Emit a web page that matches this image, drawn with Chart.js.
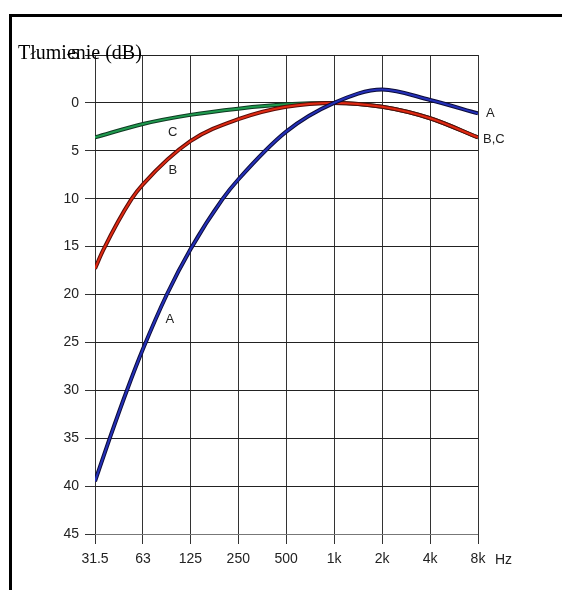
<!DOCTYPE html>
<html>
<head>
<meta charset="utf-8">
<script src="https://cdn.jsdelivr.net/npm/chart.js@4"></script>
<style>
  html, body { margin: 0; padding: 0; background: #fff; overflow: hidden; }
  #wrap { position: relative; width: 562px; height: 590px; }
  #frame { position: absolute; left: 9px; top: 14px; width: 700px; height: 700px; border: 3px solid #000; }
  #chart { position: absolute; left: 0; top: 0; }
</style>
</head>
<body>
<div id="wrap">
  <div id="frame"></div>
  <canvas id="chart" width="562" height="590"></canvas>
</div>
<script>
// Krzywe korekcyjne A, B, C - tłumienie w dB w funkcji częstotliwości

const freqTicks = [31.5, 63, 125, 250, 500, 1000, 2000, 4000, 8000];
const freqLabels = ['31.5', '63', '125', '250', '500', '1k', '2k', '4k', '8k'];
const yTicks = [-5, 0, 5, 10, 15, 20, 25, 30, 35, 40, 45];

// odczyty z wykresu (Hz, dB)
const aFreq = [31.5, 39, 50, 63, 89, 125, 200, 250, 500, 1000, 2000, 4000, 8000];
const aVal  = [39.5, 35, 30, 25.7, 20, 15.3, 10, 8.0, 3.0, 0.0, -1.4, -0.3, 1.1];

const bFreq = [31.5, 35.4, 53.6, 63, 125, 250, 500, 1000, 2000, 4000, 8000];
const bVal  = [17.3, 15.4, 10, 8.5, 4.0, 1.7, 0.4, 0.0, 0.4, 1.6, 3.6];

const cFreq = [31.5, 63, 125, 250, 500, 1000, 2000, 4000, 8000];
const cVal  = [3.6, 2.2, 1.25, 0.6, 0.15, 0.0, 0.4, 1.6, 3.6];

const FONT = '"Liberation Sans", Arial, sans-serif';

function pts(fs, vs) {
    return fs.map((f, i) => ({ x: f, y: vs[i] }));
}

// dark outline under a thinner coloured line
function line(data, color, width, order) {
    return {
        data: data,
        borderColor: color,
        borderWidth: width,
        pointRadius: 0,
        fill: false,
        cubicInterpolationMode: 'monotone',
        order: order
    };
}

// title + curve letters + "Hz"
const textPlugin = {
    id: 'texts',
    afterDraw(chart) {
        const c = chart.ctx;
        const x = chart.scales.x;
        const y = chart.scales.y;
        c.save();

        c.fillStyle = '#000';
        c.font = '20px "Liberation Serif", "Times New Roman", serif';
        c.textAlign = 'left';
        c.textBaseline = 'alphabetic';
        c.fillText('Tłumienie (dB)', 18, 59);

        c.fillStyle = '#222';
        c.font = '13px ' + FONT;
        c.textAlign = 'center';
        c.textBaseline = 'middle';
        c.fillText('C', x.getPixelForValue(97), y.getPixelForValue(3.1));
        c.fillText('B', x.getPixelForValue(97), y.getPixelForValue(7.1));
        c.fillText('A', x.getPixelForValue(93), y.getPixelForValue(22.6));

        const fMax = freqTicks[freqTicks.length - 1];
        c.textAlign = 'left';
        c.fillText('A', x.getPixelForValue(fMax) + 8, y.getPixelForValue(aVal[aVal.length - 1]));
        c.fillText('B,C', x.getPixelForValue(fMax) + 5, y.getPixelForValue(bVal[bVal.length - 1] + 0.2));

        c.font = '14px ' + FONT;
        c.fillText('Hz', x.getPixelForValue(fMax) + 17, chart.chartArea.bottom + 26);
        c.restore();
    }
};

new Chart(document.getElementById('chart'), {
    type: 'line',
    data: {
        datasets: [
            line(pts(cFreq, cVal), '#0e3a22', 4, 6),
            line(pts(cFreq, cVal), '#1f9a4e', 2, 5),
            line(pts(bFreq, bVal), '#5a0c08', 4, 4),
            line(pts(bFreq, bVal), '#e02a12', 2, 3),
            line(pts(aFreq, aVal), '#0c0c3a', 4, 2),
            line(pts(aFreq, aVal), '#2430b8', 2, 1)
        ]
    },
    options: {
        responsive: false,
        animation: false,
        devicePixelRatio: 1,
        parsing: false,
        layout: {
            padding: { left: 0, top: 55, right: 84, bottom: 0 }
        },
        plugins: {
            legend: { display: false },
            tooltip: { enabled: false }
        },
        scales: {
            x: {
                type: 'logarithmic',
                min: freqTicks[0],
                max: freqTicks[freqTicks.length - 1],
                afterFit: (s) => { s.height = 56; },
                afterBuildTicks: (s) => { s.ticks = freqTicks.map(v => ({ value: v })); },
                grid: {
                    color: '#333',
                    lineWidth: 1,
                    drawTicks: true,
                    tickLength: 10,
                    tickColor: '#333'
                },
                border: { display: false },
                ticks: {
                    autoSkip: false,
                    maxRotation: 0,
                    padding: 7,
                    color: '#222',
                    font: { family: FONT, size: 14 },
                    callback: (v, i) => freqLabels[i]
                }
            },
            y: {
                reverse: true,
                min: yTicks[0],
                max: yTicks[yTicks.length - 1],
                afterFit: (s) => { s.width = 95; },
                afterBuildTicks: (s) => { s.ticks = yTicks.map(v => ({ value: v })); },
                grid: {
                    color: (ctx) => ctx.tick && ctx.tick.value === 45 ? '#777' : '#222',
                    lineWidth: 1,
                    drawTicks: true,
                    tickLength: 10,
                    tickColor: '#333'
                },
                border: { display: false },
                ticks: {
                    padding: 6,
                    color: '#222',
                    font: { family: FONT, size: 14 },
                    callback: (v) => String(v)
                }
            }
        }
    },
    plugins: [textPlugin]
});
</script>
</body>
</html>
